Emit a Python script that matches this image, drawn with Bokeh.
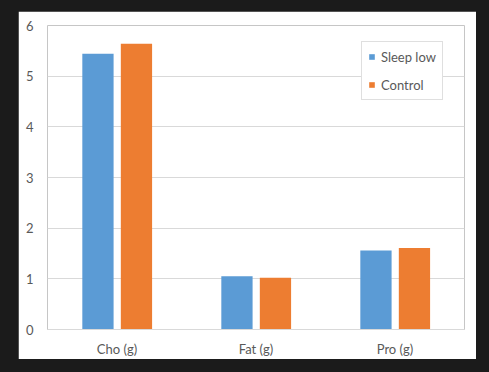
from bokeh.plotting import figure
from bokeh.models import ColumnDataSource, Range1d, FixedTicker, Legend, LegendItem, Spacer
from bokeh.transform import dodge
from bokeh.layouts import column, row
from bokeh.embed import file_html
from bokeh.resources import INLINE

categories = ["Cho (g)", "Fat (g)", "Pro (g)"]
sleep_low = [5.44, 1.05, 1.56]
control = [5.64, 1.02, 1.61]
y_ticks = [0, 1, 2, 3, 4, 5, 6]

BLUE = "#5b9bd5"
ORANGE = "#ed7d31"
TEXT = "#595959"
GRID = "#d9d9d9"
FONT = "Lato"
DARK = "#1b1b1b"

src = ColumnDataSource(dict(cat=categories, sleep=sleep_low, ctrl=control))

p = figure(x_range=categories, y_range=Range1d(0, 6), width=458, height=348,
           output_backend="svg", toolbar_location=None,
           min_border_left=29, min_border_right=12, min_border_top=14, min_border_bottom=30)
p.x_range.range_padding = 0

r1 = p.vbar(x=dodge("cat", -0.137, range=p.x_range), top="sleep", width=0.225,
            source=src, fill_color=BLUE, line_color=None)
r2 = p.vbar(x=dodge("cat", 0.14, range=p.x_range), top="ctrl", width=0.225,
            source=src, fill_color=ORANGE, line_color=None)

p.outline_line_color = None
p.background_fill_color = "white"
p.border_fill_color = "white"
p.xgrid.grid_line_color = None
p.ygrid.grid_line_color = GRID
p.ygrid.grid_line_width = 1

p.yaxis.ticker = FixedTicker(ticks=y_ticks)
p.yaxis.axis_line_color = None
p.yaxis.major_tick_line_color = None
p.yaxis.minor_tick_line_color = None
p.yaxis.major_tick_out = 0
p.yaxis.major_label_standoff = 14

p.xaxis.axis_line_color = GRID
p.xaxis.major_tick_line_color = None
p.xaxis.major_tick_out = 0
p.xaxis.major_label_standoff = 11

for ax in (p.xaxis[0], p.yaxis[0]):
    ax.major_label_text_color = TEXT
    ax.major_label_text_font = FONT
    ax.major_label_text_font_size = "13px"

legend = Legend(items=[LegendItem(label="Sleep low", renderers=[r1]),
                       LegendItem(label="Control", renderers=[r2])],
                location=(314, 229))
legend.border_line_color = "#bfbfbf"
legend.border_line_width = 1
legend.background_fill_color = "white"
legend.background_fill_alpha = 1
legend.label_text_font = FONT
legend.label_text_font_size = "13px"
legend.label_text_color = TEXT
legend.glyph_width = 7
legend.glyph_height = 7
legend.label_height = 17
legend.label_standoff = 6
legend.padding = 6
legend.spacing = 11
legend.margin = 0
p.add_layout(legend)

layout = column(
    Spacer(width=489, height=11),
    row(Spacer(width=18, height=348), p, Spacer(width=13, height=348), spacing=0),
    Spacer(width=489, height=13),
    spacing=0,
    styles={"background-color": DARK},
)

open("out.html", "w").write(file_html(layout, INLINE))
